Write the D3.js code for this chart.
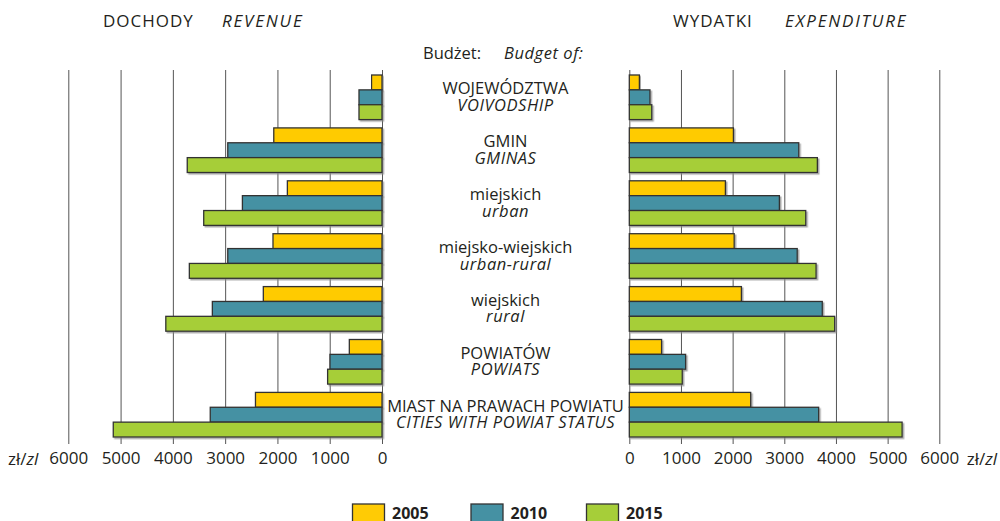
<!DOCTYPE html>
<html lang="pl">
<head>
<meta charset="utf-8">
<title>Dochody i wydatki budżetów</title>
<script src="https://cdnjs.cloudflare.com/ajax/libs/d3/7.8.5/d3.min.js"></script>
<style>
  body { margin: 0; background: #fff; }
  svg { display: block; font-family: "Open Sans", "DejaVu Sans", sans-serif; fill: #231f20; }
  .lab { font-size: 16.5px; }
  .it { font-style: italic; letter-spacing: 0.55px; }
  .head { font-size: 17px; letter-spacing: 1px; }
  .head .it { letter-spacing: 1.8px; }
  .bar { stroke: #333; stroke-width: 1.3; }
</style>
</head>
<body>
<script>
// budget categories (pl / en)
var catPl = ["WOJEWÓDZTWA", "GMIN", "miejskich", "miejsko-wiejskich", "wiejskich", "POWIATÓW", "MIAST NA PRAWACH POWIATU"];
var catEn = ["VOIVODSHIP", "GMINAS", "urban", "urban-rural", "rural", "POWIATS", "CITIES WITH POWIAT STATUS"];
var years = ["2005", "2010", "2015"];
var colors = ["#ffcb05", "#4591a3", "#a6ce39"];

// zł per capita
var revenue2005 = [200, 2070, 1810, 2085, 2270, 625, 2420];
var revenue2010 = [440, 2950, 2670, 2950, 3245, 995, 3285];
var revenue2015 = [440, 3725, 3410, 3685, 4135, 1040, 5140];

var expend2005 = [195, 2015, 1860, 2030, 2170, 625, 2350];
var expend2010 = [400, 3280, 2905, 3250, 3735, 1090, 3665];
var expend2015 = [435, 3640, 3415, 3615, 3975, 1025, 5280];

var ticks = [0, 1000, 2000, 3000, 4000, 5000, 6000];

var W = 1000, H = 521;
var svg = d3.select("body").append("svg").attr("width", W).attr("height", H);

var defs = svg.append("defs");
defs.append("filter").attr("id", "sh").attr("x", "-5%").attr("y", "-20%").attr("width", "115%").attr("height", "160%")
  .append("feDropShadow").attr("dx", 1.5).attr("dy", 1.5).attr("stdDeviation", 0.7)
  .attr("flood-color", "#888").attr("flood-opacity", 0.7);

var xL = d3.scaleLinear().domain([0, 6000]).range([382, 68.3]);
var xR = d3.scaleLinear().domain([0, 6000]).range([629.3, 939.3]);

var y0 = d3.scaleBand().domain(catPl).range([75, 437]).paddingInner(0.157).paddingOuter(0);
var y1 = d3.scaleBand().domain(years).range([0, y0.bandwidth()]);

var gTop = 70, gBot = 444;

function grid(scale) {
  var ax = d3.axisBottom(scale).tickValues(ticks).tickFormat(d3.format("d"))
    .tickSizeInner(-(gBot - gTop)).tickSizeOuter(0).tickPadding(8);
  var g = svg.append("g").attr("transform", "translate(0," + gBot + ")").call(ax);
  g.select(".domain").remove();
  g.selectAll("line").attr("stroke", "#555");
  g.selectAll("text").attr("fill", "#231f20")
    .style("font-family", "'Open Sans', sans-serif").style("font-size", "17px");
}
grid(xL);
grid(xR);

function side(scale, series, leftSide) {
  var g = svg.append("g");
  years.forEach(function(yr, j) {
    g.selectAll(".b" + yr).data(series[j]).enter().append("rect")
      .attr("class", "bar")
      .attr("filter", "url(#sh)")
      .attr("fill", colors[j])
      .attr("x", function(d) { return leftSide ? scale(d) : scale(0); })
      .attr("width", function(d) { return Math.abs(scale(d) - scale(0)); })
      .attr("y", function(d, i) { return y0(catPl[i]) + y1(yr); })
      .attr("height", y1.bandwidth());
  });
}
side(xL, [revenue2005, revenue2010, revenue2015], true);
side(xR, [expend2005, expend2010, expend2015], false);

// category labels in the middle
var cx = 505.5;
var labs = svg.append("g").attr("class", "lab").attr("text-anchor", "middle");
labs.selectAll(".pl").data(catPl).enter().append("text")
  .attr("x", cx)
  .attr("y", function(d) { return y0(d) + y0.bandwidth() / 2 - 3; })
  .text(function(d) { return d; });
labs.selectAll(".en").data(catEn).enter().append("text")
  .attr("class", "it")
  .attr("x", cx)
  .attr("y", function(d, i) { return y0(catPl[i]) + y0.bandwidth() / 2 + 13.5; })
  .text(function(d) { return d; });

// headers
var hd = svg.append("g").attr("class", "head");
hd.append("text").attr("x", 103).attr("y", 27).text("DOCHODY");
hd.append("text").attr("class", "it").attr("x", 222).attr("y", 27).text("REVENUE");
hd.append("text").attr("x", 673).attr("y", 27).text("WYDATKI");
hd.append("text").attr("class", "it").attr("x", 785).attr("y", 27).text("EXPENDITURE");
svg.append("text").attr("class", "lab").attr("x", 423).attr("y", 58.5).text("Budżet:");
svg.append("text").attr("class", "lab it").attr("x", 504).attr("y", 58.5).text("Budget of:");

// unit labels
[[8, "start"], [997, "end"]].forEach(function(u) {
  var t = svg.append("text").attr("x", u[0]).attr("y", 464.5).attr("text-anchor", u[1]).style("font-size", "17px");
  t.append("tspan").text("zł/");
  t.append("tspan").style("font-style", "italic").text("zl");
});

// legend
var legX = [352.5, 471, 586.5];
var leg = svg.append("g").selectAll("g").data(years).enter().append("g")
  .attr("transform", function(d, i) { return "translate(" + legX[i] + ",504)"; });
leg.append("rect").attr("width", 32).attr("height", 19)
  .attr("fill", function(d, i) { return colors[i]; })
  .attr("stroke", "#333").attr("stroke-width", 1.3);
leg.append("text").attr("x", 39.5).attr("y", 14.5)
  .style("font-size", "16px").style("font-weight", "bold")
  .text(function(d) { return d; });
</script>
</body>
</html>
